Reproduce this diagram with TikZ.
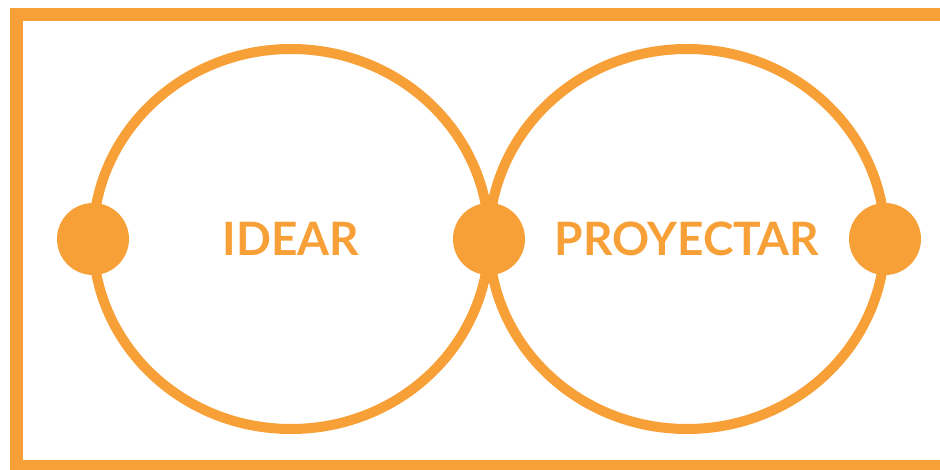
\documentclass[tikz,border=0pt]{standalone}
\usepackage{fontspec}
\setmainfont{Lato}
\usepackage{tikz}
\usetikzlibrary{shapes.geometric,positioning}
\definecolor{naranja}{HTML}{F8A038}

\begin{document}
\begin{tikzpicture}[x=1pt, y=-1pt,
  ring/.style={ellipse, draw=naranja, line width=10pt, inner sep=0pt,
    outer sep=0pt, minimum width=396pt, minimum height=380pt, text=naranja,
    font=\fontsize{46}{46}\selectfont\bfseries},
  dot/.style={circle, fill=naranja, minimum size=72pt, inner sep=0pt}]
  \useasboundingbox (0,0) rectangle (940,470);
  \clip (0,0) rectangle (940,470);
  % marco
  \draw[naranja, line width=13pt] (16.5,14.5) rectangle (960,466.5);
  % etapas
  \node[ring] (idear) at (291,239) {IDEAR};
  \node[ring] (proyectar) at (687,239) {PROYECTAR};
  \node[dot] (p1) at (idear.west) {};
  \node[dot] (p2) at (idear.east) {};
  \node[dot] (p3) at (proyectar.east) {};
\end{tikzpicture}
\end{document}
